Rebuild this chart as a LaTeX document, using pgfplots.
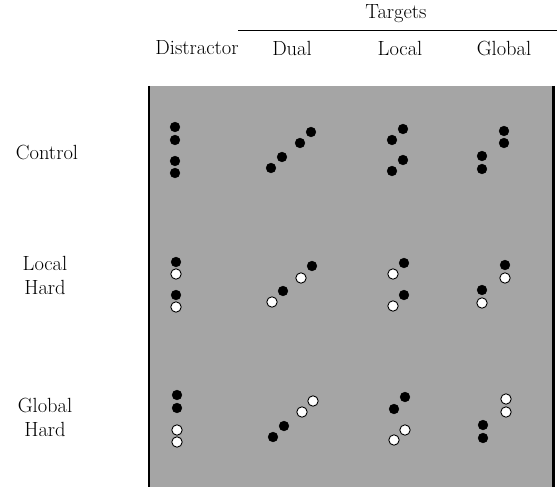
\documentclass[border=0pt]{standalone}
\usepackage{pgfplots}
\pgfplotsset{compat=1.18}
\definecolor{noise}{RGB}{165,165,165}
\tikzset{lab/.style={font=\fontsize{20.5}{24}\selectfont, inner sep=0pt}}
\begin{document}
\begin{tikzpicture}
\begin{axis}[
  scale only axis, width=557pt, height=487pt,
  xmin=0, xmax=557, ymin=0, ymax=487, y dir=reverse,
  hide axis, clip=false,
]
% panel
\addplot [fill=noise, draw=none] coordinates {(149,86) (553,86) (553,487) (149,487)} -- cycle;
\addplot [black, line width=1.5pt] coordinates {(149,86) (149,487)};
\addplot [black, line width=3pt] coordinates {(553.5,86) (553.5,487)};

% black dots
\addplot [only marks, mark=*, mark size=4.9pt, black] coordinates {
  (175,127) (175,140) (175,161) (175,173)
  (271,168) (282,157) (300,143) (311,132)
  (403,129) (392,140) (403,160) (392,171)
  (504,131) (504,143) (482,156) (482,169)
  (176,262) (176,295)
  (312,266) (283,291)
  (404,263) (404,295)
  (505,265) (482,290)
  (177,395) (177,408)
  (273,437) (284,426)
  (405,397) (394,409)
  (483,425) (483,438)
};
% white dots
\addplot [only marks, mark=*, mark size=5.2pt, mark options={fill=white, draw=black, line width=0.9pt}] coordinates {
  (176,274) (176,307)
  (301,278) (272,302)
  (393,274) (393,306)
  (505,278) (482,303)
  (177,430) (177,442)
  (302,412) (313,401)
  (405,430) (394,440)
  (506,399) (506,412)
};

% headings
\node[lab] at (axis cs:396,14) {Targets};
\addplot [black, line width=0.8pt] coordinates {(238,30) (557,30)};
\node[lab] at (axis cs:197,48) {Distractor};
\node[lab] at (axis cs:292,48) {Dual};
\node[lab] at (axis cs:400,48) {Local};
\node[lab] at (axis cs:504,48) {Global};
\node[lab] at (axis cs:47,152) {Control};
\node[lab, align=center] at (axis cs:45,275) {Local\\Hard};
\node[lab, align=center] at (axis cs:45,417) {Global\\Hard};
\end{axis}
\pgfresetboundingbox
\path (current axis.south west) rectangle (current axis.north east);
\end{tikzpicture}
\end{document}
